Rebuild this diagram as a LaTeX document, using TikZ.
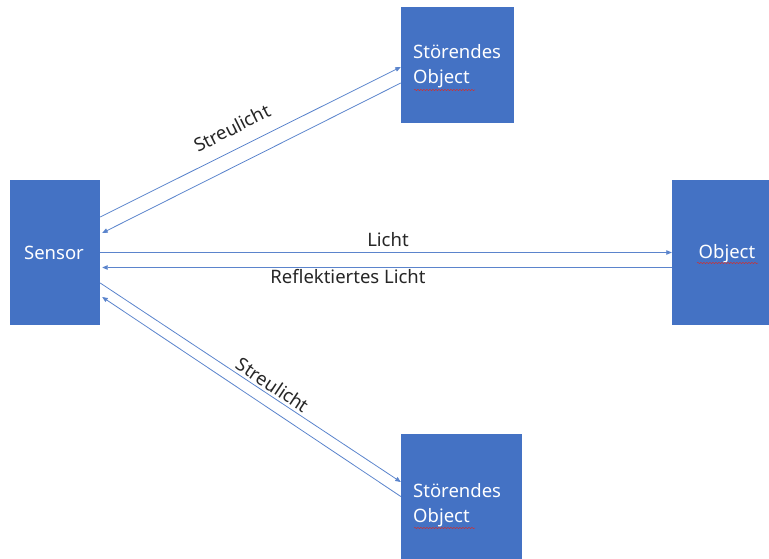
\documentclass[tikz,border=0pt]{standalone}
\usepackage{fontspec}
\setmainfont{Noto Sans}
\usetikzlibrary{arrows.meta,decorations.pathmorphing}
\definecolor{boxblue}{HTML}{4472C4}
\definecolor{lineblue}{HTML}{5B84CC}
\definecolor{labelgray}{HTML}{262626}
\definecolor{squiggle}{HTML}{D03030}
\tikzset{
  block/.style={draw=none, fill=boxblue, inner sep=0pt},
  caption/.style={text=white, font=\fontsize{18.5}{25}\selectfont, inner sep=0pt, align=left},
  ray/.style={draw=lineblue, line width=0.8pt,
    -{Triangle[length=5.5pt,width=4.5pt]}},
  lbl/.style={text=labelgray, font=\fontsize{18.5}{20}\selectfont, inner sep=0pt},
  wavy/.style={draw=squiggle, line width=0.5pt,
    decorate, decoration={snake, amplitude=0.6pt, segment length=3pt}}
}
\begin{document}
\begin{tikzpicture}[x=1pt,y=-1pt]
\useasboundingbox (0,0) rectangle (769,559);

% boxes
\node[block, minimum width=90pt, minimum height=145pt] (sensor) at (55,252.5) {};
\node[block, minimum width=113pt, minimum height=116pt] (dtop) at (457.5,65) {};
\node[block, minimum width=118pt, minimum height=145pt] (obj) at (731,252.5) {};
\node[block, minimum width=121pt, minimum height=131pt] (dbot) at (461.5,499.5) {};

% box captions
\node[caption] (tsensor) at (54,253) {Sensor};
\node[caption, anchor=west] (tdtop) at (413,66.5) {Störendes\\Object};
\node[caption] (tobj) at (727,253.5) {Object};
\node[caption, anchor=west] (tdbot) at (413,505) {Störendes\\Object};

% spelling marks under "Object"
\draw[wavy] (414,90) -- (475,90);
\draw[wavy] (697,263) -- (758,263);
\draw[wavy] (414,528) -- (475,528);

% rays to and from the upper disturbing object
\draw[ray] ([yshift=35.5pt]sensor.east) -- ([yshift=-2pt]dtop.west);
\draw[ray] ([yshift=-18pt]dtop.west) -- ([yshift=19.5pt,xshift=2pt]sensor.east);

% light to the object and its reflection
\draw[ray] (sensor.east) -- (obj.west);
\draw[ray] ([yshift=-15pt]obj.west) -- ([yshift=-15pt,xshift=2pt]sensor.east);

% rays to and from the lower disturbing object
\draw[ray] ([yshift=-30.5pt]sensor.east) -- ([yshift=17.5pt]dbot.west);
\draw[ray] ([yshift=3pt]dbot.west) -- ([yshift=-44.5pt,xshift=2pt]sensor.east);

% labels
\node[lbl, rotate=26.6] (lst1) at (232,128) {Streulicht};
\node[lbl] (llicht) at (388,240) {Licht};
\node[lbl] (lrefl) at (348,277) {Reflektiertes Licht};
\node[lbl, rotate=-33.6] (lst2) at (273,385) {Streulicht};
\end{tikzpicture}
\end{document}
